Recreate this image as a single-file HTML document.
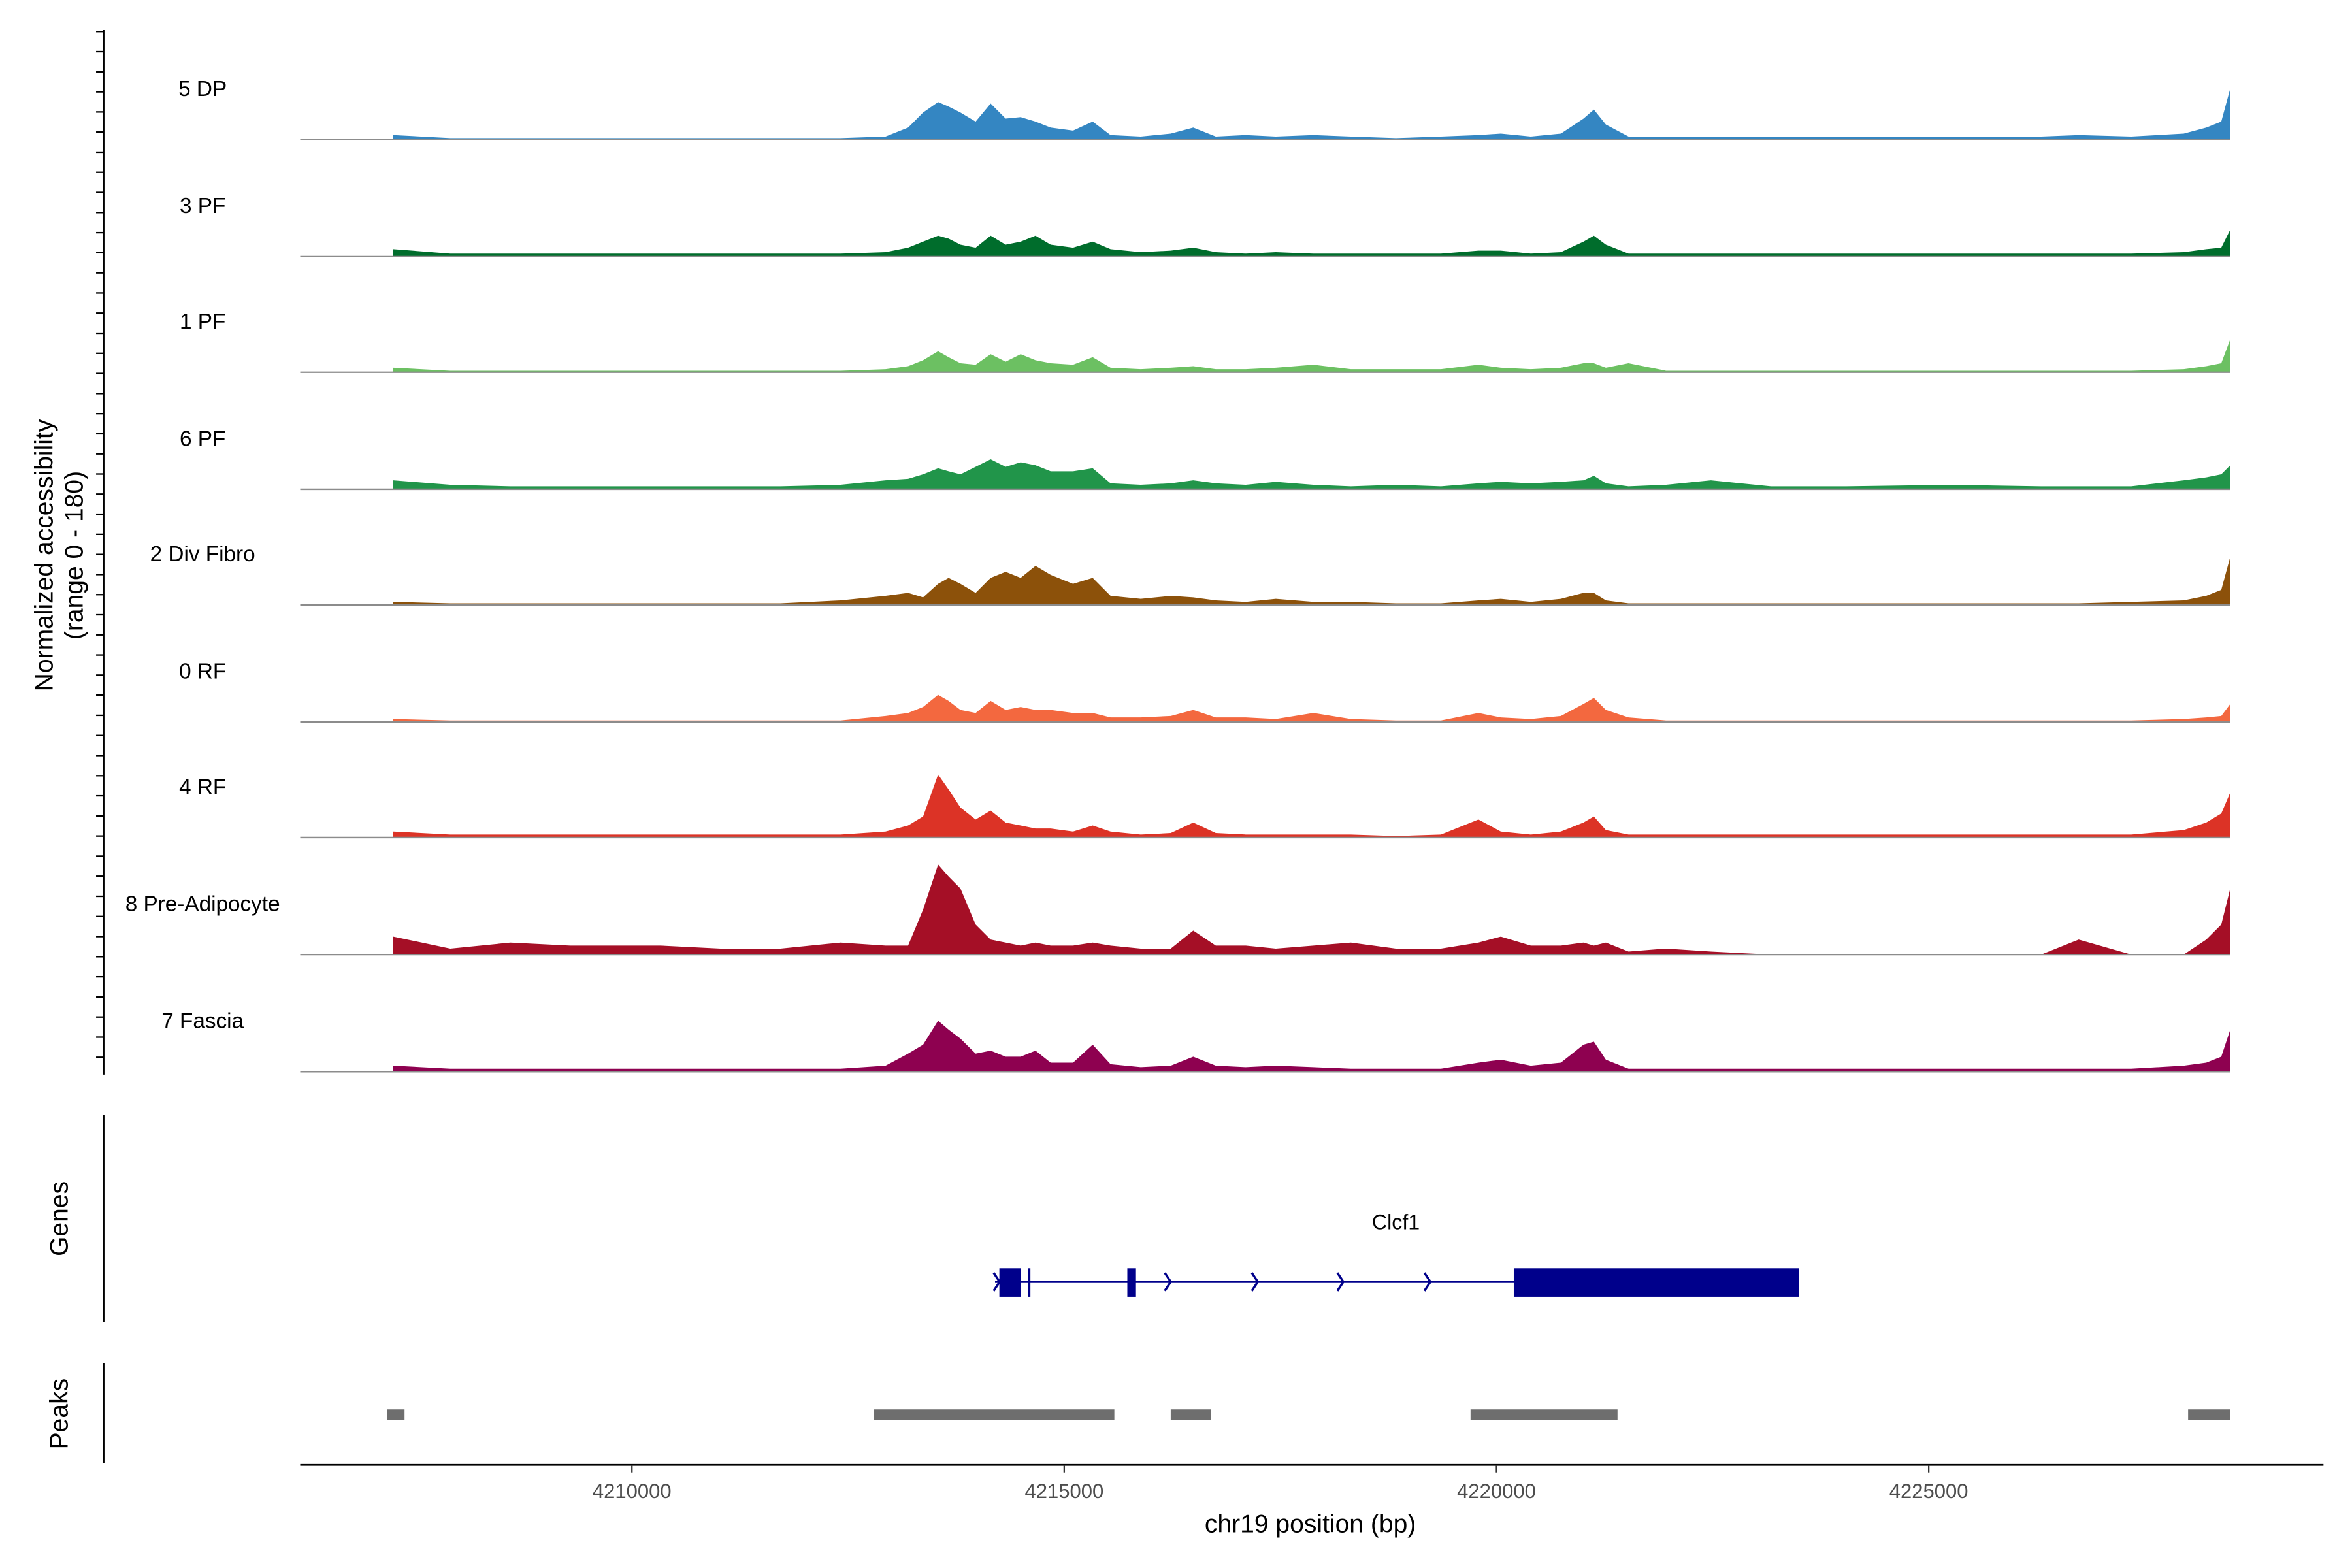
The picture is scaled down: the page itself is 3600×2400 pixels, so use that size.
<!DOCTYPE html>
<html><head><meta charset="utf-8"><style>
html,body{margin:0;padding:0;background:#fff;}
svg{display:block;font-family:"Liberation Sans",sans-serif;}
</style></head><body>
<svg id="chart" width="3600" height="2400" viewBox="0 0 1567 1044.67" xmlns="http://www.w3.org/2000/svg">
<g id="tracks"></g>
<line x1="69" y1="20" x2="69" y2="716" stroke="#000" stroke-width="1.2"/>
<g id="yticks"></g>
<text transform="translate(35,370) rotate(-90)" text-anchor="middle" font-size="17">Normalized accessibility</text>
<text transform="translate(55,370) rotate(-90)" text-anchor="middle" font-size="17">(range 0 - 180)</text>
<line x1="69" y1="743" x2="69" y2="881" stroke="#000" stroke-width="1.2"/>
<text transform="translate(45,812) rotate(-90)" text-anchor="middle" font-size="17">Genes</text>
<g id="gene"></g>
<line x1="69" y1="908" x2="69" y2="975" stroke="#000" stroke-width="1.2"/>
<text transform="translate(45,942) rotate(-90)" text-anchor="middle" font-size="17">Peaks</text>
<g id="peaks"></g>
<line x1="200" y1="976" x2="1548" y2="976" stroke="#000" stroke-width="1.2"/>
<g id="xticks"></g>
<text x="873" y="1021" text-anchor="middle" font-size="17">chr19 position (bp)</text>
</svg>
<script>
const positions=[4207239,4207899,4208593,4209288,4210329,4211024,4211718,4212413,4212933,4213194,4213367,4213541,4213663,4213801,4213975,4214149,4214322,4214496,4214669,4214843,4215103,4215329,4215537,4215885,4216232,4216492,4216753,4217100,4217447,4217881,4218315,4218836,4219357,4219791,4220051,4220398,4220745,4221006,4221127,4221266,4221527,4221961,4222481,4223176,4224044,4225259,4226301,4226735,4227342,4227950,4228210,4228384,4228488];
const trackNames=["5 DP","3 PF","1 PF","6 PF","2 Div Fibro","0 RF","4 RF","8 Pre-Adipocyte","7 Fascia"];
const trackColors=["#3486c2","#006d2c","#6cc062","#21954a","#8c510a","#f3683f","#dc3326","#a50f26","#8e0150"];
const dp5=[3,1,1,1,1,1,1,1,2,8,18,25,22,18,12,24,14,15,12,8,6,12,3,2,4,8,2,3,2,3,2,1,2,3,4,2,4,14,20,10,2,2,2,2,2,2,2,3,2,4,8,12,34];
const pf3=[5,2,2,2,2,2,2,2,3,6,10,14,12,8,6,14,8,10,14,8,6,10,5,3,4,6,3,2,3,2,2,2,2,4,4,2,3,10,14,8,2,2,2,2,2,2,2,2,2,3,5,6,18];
const pf1=[3,1,1,1,1,1,1,1,2,4,8,14,10,6,5,12,7,12,8,6,5,10,3,2,3,4,2,2,3,5,2,2,2,5,3,2,3,6,6,3,6,1,1,1,1,1,1,1,1,2,4,6,22];
const pf6=[6,3,2,2,2,2,2,3,6,7,10,14,12,10,15,20,15,18,16,12,12,14,4,3,4,6,4,3,5,3,2,3,2,4,5,4,5,6,9,4,2,3,6,2,2,3,2,2,2,6,8,10,16];
const divFibro2=[2,1,1,1,1,1,1,3,6,8,5,14,18,14,8,18,22,18,26,20,14,18,6,4,6,5,3,2,4,2,2,1,1,3,4,2,4,8,8,3,1,1,1,1,1,1,1,1,2,3,6,10,32];
const rf0=[2,1,1,1,1,1,1,1,4,6,10,18,14,8,6,14,8,10,8,8,6,6,3,3,4,8,3,3,2,6,2,1,1,6,3,2,4,12,16,8,3,1,1,1,1,1,1,1,1,2,3,4,12];
const rf4=[4,2,2,2,2,2,2,2,4,8,14,42,32,20,12,18,10,8,6,6,4,8,4,2,3,10,3,2,2,2,2,1,2,12,4,2,4,10,14,5,2,2,2,2,2,2,2,2,2,5,10,16,30];
const preAdipo8=[12,4,8,6,6,4,4,8,6,6,30,60,52,44,20,10,8,6,8,6,6,8,6,4,4,16,6,6,4,6,8,4,4,8,12,6,6,8,6,8,2,4,2,0,0,0,0,10,0,0,10,20,44];
const fascia7=[4,2,2,2,2,2,2,2,4,12,18,34,28,22,12,14,10,10,14,6,6,18,5,3,4,10,4,3,4,3,2,2,2,6,8,4,6,18,20,8,2,2,2,2,2,2,2,2,2,4,6,10,28];
const trackValues=[dp5,pf3,pf1,pf6,divFibro2,rf0,rf4,preAdipo8,fascia7];
const xTicks=[4210000,4215000,4220000,4225000];
const peakStarts=[4207169,4212802,4216232,4219700,4228000];
const peakEnds=[4207370,4215580,4216700,4221400,4228490];
const exonStarts=[4214250,4215730,4220200];
const exonEnds=[4214500,4215830,4223500];
const geneStart=4214200, geneEnd=4223500;

const NS="http://www.w3.org/2000/svg";
const X0=200, BP0=4206163, PXBP=288/5000;
function xs(bp){return X0+(bp-BP0)*PXBP;}
const YMAX=75, TRACK_H=75;
function ys(v,base){return base-v/YMAX*TRACK_H;}
function mk(tag,attrs,parent){const e=document.createElementNS(NS,tag);for(const k in attrs)e.setAttribute(k,attrs[k]);parent.appendChild(e);return e;}

const tracks=document.getElementById('tracks');
const bases=[93,171,248,326,403,481,558,636,714];
trackValues.forEach((vals,t)=>{
  const base=bases[t];
  const g=mk('g',{},tracks);
  
  
  let d='M'+xs(positions[0]).toFixed(1)+','+base;
  vals.forEach((v,i)=>{d+=' L'+xs(positions[i]).toFixed(1)+','+ys(v,base).toFixed(1);});
  d+=' L'+xs(positions[positions.length-1]).toFixed(1)+','+base+' Z';
  const p=mk('path',{d:d,fill:trackColors[t]},g);
  
  
  const l=mk('line',{x1:200,x2:1486,y1:base,y2:base,stroke:'#8c8c8c','stroke-width':1},g);
  
  
  const tx=mk('text',{x:135,y:base-29,'text-anchor':'middle','font-size':14.5},g);
  tx.textContent=trackNames[t];
  
  
});
const yt=document.getElementById('yticks');
for(let y=21;y<=716;y+=13.4){
  const l=mk('line',{x1:64,x2:69,y1:y,y2:y,stroke:'#000','stroke-width':1},yt);
  
  
}
const xt=document.getElementById('xticks');
xTicks.forEach(v=>{
  const x=xs(v);
  const l=mk('line',{x1:x,x2:x,y1:976,y2:981,stroke:'#333'},xt);
  
  
  const t=mk('text',{x:x,y:998,'text-anchor':'middle','font-size':13.5,fill:'#4d4d4d'},xt);
  t.textContent=v;
  
  
});
const pk=document.getElementById('peaks');
peakStarts.forEach((s,i)=>{
  const r=mk('rect',{x:xs(s),y:939,width:xs(peakEnds[i])-xs(s),height:7,fill:'#6e6e6e'},pk);
  
  
});
const gn=document.getElementById('gene');
const gy=854;
let gl=mk('line',{x1:xs(geneStart),x2:xs(geneEnd),y1:gy,y2:gy,stroke:'#00008b','stroke-width':1.6},gn);


exonStarts.forEach((s,i)=>{
  const r=mk('rect',{x:xs(s),y:845,width:Math.max(3,xs(exonEnds[i])-xs(s)),height:19,fill:'#00008b'},gn);
  
  
});
let vb=mk('rect',{x:685,y:845,width:1.5,height:19,fill:'#00008b'},gn);


[664,778,836,893,951].forEach(x=>{
  const a=mk('path',{d:`M${x-2},${gy-6} L${x+2},${gy} L${x-2},${gy+6}`,fill:'none',stroke:'#00008b','stroke-width':1.5},gn);
  
  
});
const gt=mk('text',{x:930,y:819,'text-anchor':'middle','font-size':14},gn);
gt.textContent='Clcf1';


</script>
</body></html>
